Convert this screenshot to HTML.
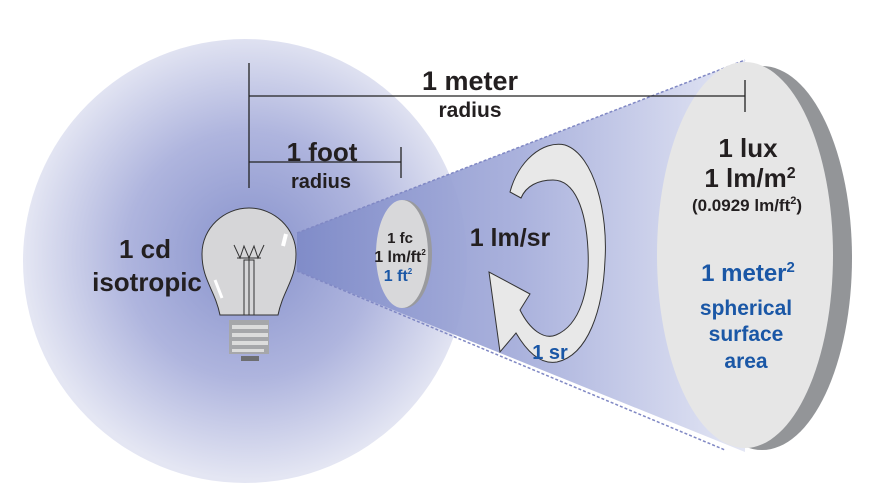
<!DOCTYPE html>
<html><head><meta charset="utf-8"><style>
html,body{margin:0;padding:0;background:#fff;}
svg{display:block;}
text{font-family:"Liberation Sans",sans-serif;font-weight:bold;}
</style></head><body>
<svg width="891" height="488" viewBox="0 0 891 488" xmlns="http://www.w3.org/2000/svg">
<defs>
<radialGradient id="sph" cx="249" cy="255" r="225" gradientUnits="userSpaceOnUse">
<stop offset="0" stop-color="#8792cc"/>
<stop offset="0.55" stop-color="#afb5de"/>
<stop offset="1" stop-color="#e4e6f3"/>
</radialGradient>
<linearGradient id="cone" x1="297" y1="0" x2="745" y2="0" gradientUnits="userSpaceOnUse">
<stop offset="0" stop-color="#7f8bc8"/>
<stop offset="0.5" stop-color="#a6aedb"/>
<stop offset="1" stop-color="#e2e5f4"/>
</linearGradient>
</defs>
<circle cx="245" cy="261" r="222" fill="url(#sph)"/>
<polygon points="297,233 745,60 745,452 297,271" fill="url(#cone)" opacity="0.95"/>
<line x1="297" y1="233" x2="745" y2="60" stroke="#8088c4" stroke-width="1.5" stroke-dasharray="3,2"/>
<line x1="297" y1="271" x2="725" y2="450" stroke="#8088c4" stroke-width="1.5" stroke-dasharray="3,2"/>
<ellipse cx="762" cy="258" rx="90" ry="192" fill="#939598"/>
<ellipse cx="745" cy="255" rx="88" ry="193" fill="#e6e6e6"/>
<ellipse cx="405" cy="254" rx="27" ry="54" fill="#999a9e"/>
<ellipse cx="402" cy="254" rx="26" ry="54" fill="#d8d8da"/>
<g stroke="#222" stroke-width="1.3">
<line x1="249" y1="63" x2="249" y2="188"/>
<line x1="249" y1="96" x2="745" y2="96"/>
<line x1="745" y1="80" x2="745" y2="112"/>
<line x1="249" y1="162" x2="401" y2="162"/>
<line x1="401" y1="147" x2="401" y2="178"/>
</g>
<path d="M220,315 C215,290 202,280 202,254 C202,228 224,208 249,208 C274,208 296,228 296,254 C296,280 283,290 278,315 Z" fill="#d6d6d8" stroke="#333" stroke-width="1"/>
<g stroke="#333" stroke-width="1" fill="none">
<path d="M234,245 L240,258 L244,246 L249,258 L254,246 L258,258 L264,245"/>
<line x1="237" y1="258" x2="261" y2="258"/>
<rect x="244" y="260" width="10" height="55"/>
<line x1="249" y1="258" x2="249" y2="315"/>
</g>
<path d="M286,234 L283,246" stroke="#fff" stroke-width="4"/>
<path d="M215,280 L222,298" stroke="#fff" stroke-width="3"/>
<rect x="229" y="320" width="40" height="34" fill="#a6a7aa"/>
<g fill="#dcdcdc"><rect x="232" y="325" width="36" height="4"/><rect x="232" y="333" width="36" height="4"/><rect x="232" y="341" width="36" height="4"/><rect x="232" y="349" width="32" height="3"/></g>
<rect x="241" y="356" width="18" height="5" fill="#6d6e71"/>
<path d="M510,192 C518,162 542,140 565,145 C595,155 608,215 605,260 C603,310 588,355 557,362 C540,365 526,350 516,333 L500,352 L489,272 L530,294 L520,310 C530,330 544,340 556,335 C580,325 590,290 588,250 C586,210 575,180 553,180 C538,180 526,186 521,198 Z" fill="#e8e8e8" stroke="#333" stroke-width="1"/>
<text x="470" y="90" font-size="27" text-anchor="middle" fill="#231f20">1 meter</text>
<text x="470" y="117" font-size="21" text-anchor="middle" fill="#231f20">radius</text>
<text x="322" y="161" font-size="26" text-anchor="middle" fill="#231f20">1 foot</text>
<text x="321" y="188" font-size="20" text-anchor="middle" fill="#231f20">radius</text>
<text x="145" y="258" font-size="26" text-anchor="middle" fill="#231f20">1 cd</text>
<text x="147" y="291" font-size="26" text-anchor="middle" fill="#231f20">isotropic</text>
<text x="400" y="243" font-size="15" text-anchor="middle" fill="#231f20">1 fc</text>
<text x="400" y="262" font-size="16" text-anchor="middle" fill="#231f20">1 lm/ft<tspan font-size="8" dy="-7">2</tspan></text>
<text x="398" y="281" font-size="16" text-anchor="middle" fill="#1a57a6" font-weight="normal">1 ft<tspan font-size="8" dy="-7">2</tspan></text>
<text x="510" y="246" font-size="25" text-anchor="middle" fill="#231f20">1 lm/sr</text>
<text x="550" y="359" font-size="20" text-anchor="middle" fill="#1a57a6">1 sr</text>
<text x="748" y="157" font-size="26" text-anchor="middle" fill="#231f20">1 lux</text>
<text x="750" y="187" font-size="26" text-anchor="middle" fill="#231f20">1 lm/m<tspan font-size="16" dy="-9">2</tspan></text>
<text x="747" y="211" font-size="17" text-anchor="middle" fill="#231f20">(0.0929 lm/ft<tspan font-size="11" dy="-7">2</tspan><tspan dy="7">)</tspan></text>
<text x="748" y="281" font-size="24" text-anchor="middle" fill="#1a57a6">1 meter<tspan font-size="15" dy="-9">2</tspan></text>
<text x="746" y="315" font-size="21" text-anchor="middle" fill="#1a57a6">spherical</text>
<text x="746" y="341" font-size="21" text-anchor="middle" fill="#1a57a6">surface</text>
<text x="746" y="368" font-size="21" text-anchor="middle" fill="#1a57a6">area</text>
</svg>
</body></html>
